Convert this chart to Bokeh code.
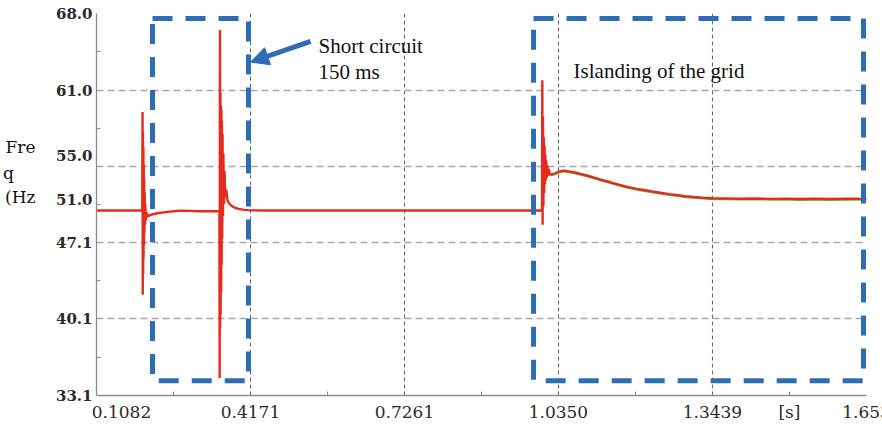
from bokeh.plotting import figure
from bokeh.models import (FixedTicker, BoxAnnotation, Arrow, NormalHead, Label,
                          Range1d, LinearAxis)
from bokeh.embed import file_html
from bokeh.resources import INLINE

# ---------------- data ----------------
x_tick_vals = [0.1082, 0.4171, 0.7261, 1.0350, 1.3439, 1.653]
x_tick_labels = ["0.1082", "0.4171", "0.7261", "1.0350", "1.3439", "1.653"]
# where the reference prints each label (first one is pushed right of the axis)
x_label_pos = [0.1584, 0.4171, 0.7261, 1.0350, 1.3439, 1.653]
x_unit_pos = 1.4985
x_unit_label = "[s]"
x_minor = [0.26265, 0.5716, 0.88055, 1.18945, 1.49845]

y_tick_vals = [68.0, 61.0, 55.0, 51.0, 47.1, 40.1, 33.1]
y_tick_labels = ["68.0", "61.0", "55.0", "51.0", "47.1", "40.1", "33.1"]
y_grid = [68.0, 61.0, 54.05, 47.1, 40.1, 33.1]
y_minor = [64.5, 57.525, 50.575, 43.6, 36.6]

ylabel_lines = ["Fre", "q\u00a0\u00a0\u00a0\u00a0", "(Hz"]
ylabel_pos = [55.84, 53.47, 51.19]

# frequency (Hz) vs time (s), red trace
t_red = [0.1082, 0.2000,
         0.2006, 0.2010, 0.2014, 0.2018, 0.2022, 0.2026, 0.2030, 0.2034, 0.2038,
         0.2043, 0.2048, 0.2054, 0.2061, 0.2070, 0.2085, 0.2110, 0.2165, 0.2300,
         0.2466, 0.2620, 0.2767, 0.2950, 0.3169, 0.3400, 0.3548,
         0.3553, 0.3558, 0.3563, 0.3568, 0.3573, 0.3578, 0.3583, 0.3588, 0.3593,
         0.3598, 0.3604, 0.3611, 0.3619, 0.3628, 0.3638, 0.3650, 0.3665, 0.3685,
         0.3710, 0.3750, 0.3800, 0.3860, 0.3930, 0.4020, 0.4120, 0.4250, 0.4450,
         0.6000, 0.8000, 1.0020,
         1.0026, 1.0032, 1.0040, 1.0048, 1.0056, 1.0064, 1.0072, 1.0080, 1.0088,
         1.0096, 1.0106, 1.0116, 1.0128, 1.0140, 1.0155, 1.0175, 1.0211, 1.0250,
         1.0291, 1.0330, 1.0371, 1.0410, 1.0452, 1.0500, 1.0552, 1.0650, 1.0793,
         1.0920, 1.1054, 1.1220, 1.1395, 1.1560, 1.1736, 1.1920, 1.2097, 1.2250,
         1.2398, 1.2570, 1.2739, 1.2900, 1.3060, 1.3250, 1.3441, 1.3700, 1.4003,
         1.4300, 1.4605, 1.4900, 1.5207, 1.5500, 1.5809, 1.6150, 1.6530]
f_red = [50.0, 50.0,
         59.0, 42.3, 57.2, 44.2, 55.8, 45.6, 54.2, 46.8, 52.9,
         47.9, 51.7, 48.7, 50.6, 49.1, 49.8, 49.45, 49.6, 49.75,
         49.85, 49.93, 49.98, 49.97, 49.94, 49.94, 49.95,
         34.7, 66.5, 39.3, 60.8, 40.5, 59.6, 42.5, 59.2, 45.0,
         58.2, 47.5, 57.0, 49.5, 55.2, 50.6, 53.6, 51.2, 51.9,
         50.9, 50.6, 50.4, 50.25, 50.15, 50.08, 50.04, 50.01, 50.0,
         50.0, 50.0, 50.0,
         61.9, 48.7, 58.6, 50.4, 56.7, 51.6, 55.9, 52.4, 55.1,
         52.8, 54.6, 53.0, 54.1, 53.2, 53.8, 53.35, 53.3, 53.35,
         53.4, 53.5, 53.55, 53.62, 53.65, 53.62, 53.58, 53.5, 53.35,
         53.2, 53.02, 52.8, 52.58, 52.36, 52.15, 51.98, 51.85, 51.72,
         51.62, 51.5, 51.4, 51.3, 51.24, 51.17, 51.12, 51.1, 51.08,
         51.1, 51.06, 51.08, 51.05, 51.08, 51.05, 51.07, 51.06]

# green trace (barely visible just under the red one after islanding)
t_green = [1.0155, 1.0175, 1.0211, 1.0250, 1.0291, 1.0330, 1.0371, 1.0410,
           1.0452, 1.0500, 1.0552, 1.0650, 1.0793, 1.0920, 1.1054, 1.1220,
           1.1395, 1.1560, 1.1736, 1.1920, 1.2097, 1.2250, 1.2398, 1.2570,
           1.2739, 1.2900, 1.3060, 1.3250, 1.3441, 1.3700, 1.4003, 1.4300,
           1.4605, 1.4900, 1.5207, 1.5500, 1.5809, 1.6150, 1.6530]
f_green = [53.2, 53.27, 53.22, 53.27, 53.32, 53.42, 53.47, 53.54,
           53.57, 53.54, 53.5, 53.42, 53.27, 53.12, 52.94, 52.72,
           52.5, 52.28, 52.07, 51.9, 51.77, 51.64, 51.54, 51.42,
           51.32, 51.22, 51.16, 51.09, 51.04, 51.02, 51.0, 51.02,
           50.98, 51.0, 50.97, 51.0, 50.97, 50.99, 50.98]

# annotated windows (time s, frequency Hz)
sc_window = dict(left=0.2206, right=0.4132, bottom=34.45, top=67.54)
isl_window = dict(left=0.9850, right=1.6470, bottom=34.45, top=67.54)
arrow_from = (0.5376, 65.45)
arrow_to = (0.4172, 63.56)
sc_text = ["Short circuit", "150 ms"]
sc_text_pos = [(0.5536, 64.99), (0.5536, 62.66)]
isl_text = "Islanding of the grid"
isl_text_pos = (1.0653, 62.71)

# ---------------- figure ----------------
BLUE = "#2c6db5"
RED = "#e52a1e"
GREEN = "#5fbf45"

p = figure(width=882, height=424,
           x_range=Range1d(0.1082, 1.653), y_range=Range1d(33.1, 68.0),
           output_backend="svg", toolbar_location=None,
           min_border_left=96, min_border_right=16,
           min_border_top=13, min_border_bottom=27)
p.outline_line_color = None
p.background_fill_color = "white"
p.border_fill_color = "white"

# grids
p.xgrid.ticker = FixedTicker(ticks=x_tick_vals)
p.xgrid.grid_line_color = "#6a6a6a"
p.xgrid.grid_line_dash = "4 3"
p.xgrid.grid_line_width = 1.1
p.ygrid.ticker = FixedTicker(ticks=y_grid)
p.ygrid.grid_line_color = "#a8a8a8"
p.ygrid.grid_line_dash = "7 4"
p.ygrid.grid_line_width = 1.5

# axes
xa = p.xaxis[0]
ya = p.yaxis[0]
xa.ticker = FixedTicker(ticks=x_label_pos + [x_unit_pos], minor_ticks=x_minor)
ov = {v: s for v, s in zip(x_label_pos, x_tick_labels)}
ov[x_unit_pos] = x_unit_label
xa.major_label_overrides = ov
ya.ticker = FixedTicker(ticks=y_tick_vals, minor_ticks=y_minor)
ya.major_label_overrides = {v: s for v, s in zip(y_tick_vals, y_tick_labels)}

for ax in (xa, ya):
    ax.axis_line_color = "#8a8a8a"
    ax.axis_line_width = 1.3
    ax.major_tick_line_color = None
    ax.major_tick_in = 0
    ax.major_tick_out = 0
    ax.minor_tick_line_color = "#8a8a8a"
    ax.minor_tick_in = 4
    ax.minor_tick_out = 0
    ax.major_label_text_font = "DejaVu Serif"
    ax.major_label_text_color = "#2a2a2a"
xa.major_label_text_font_size = "17px"
xa.major_label_standoff = 6
ya.major_label_text_font_size = "15px"
ya.major_label_text_font_style = "bold"
ya.major_label_standoff = 4

# quantity name printed to the left of the y tick labels
name_axis = LinearAxis(ticker=FixedTicker(ticks=ylabel_pos, minor_ticks=[]),
                       major_label_overrides={v: s for v, s in zip(ylabel_pos, ylabel_lines)},
                       axis_line_color=None, major_tick_line_color=None,
                       minor_tick_line_color=None, major_tick_in=0, major_tick_out=0,
                       major_label_standoff=17,
                       major_label_text_font="DejaVu Serif",
                       major_label_text_font_size="17px",
                       major_label_text_color="#111111")
p.add_layout(name_axis, "left")

# traces
p.line(t_green, f_green, line_color=GREEN, line_width=2.0)
p.line(t_red, f_red, line_color=RED, line_width=2.4)

# annotation boxes
for w in (sc_window, isl_window):
    p.add_layout(BoxAnnotation(fill_alpha=0, fill_color=None, line_color=BLUE,
                               line_width=5, line_dash="20 13", line_alpha=1, **w))

p.add_layout(Arrow(end=NormalHead(size=18, fill_color=BLUE, line_color=BLUE),
                   x_start=arrow_from[0], y_start=arrow_from[1],
                   x_end=arrow_to[0], y_end=arrow_to[1],
                   line_color=BLUE, line_width=5))

for txt, (x, y) in zip(sc_text, sc_text_pos):
    p.add_layout(Label(x=x, y=y, text=txt, text_font="Liberation Serif",
                       text_font_size="21px", text_color="#111111",
                       text_baseline="alphabetic"))
p.add_layout(Label(x=isl_text_pos[0], y=isl_text_pos[1], text=isl_text,
                   text_font="Liberation Serif", text_font_size="21px",
                   text_color="#111111", text_baseline="alphabetic"))

open("out.html", "w").write(file_html(p, INLINE))
